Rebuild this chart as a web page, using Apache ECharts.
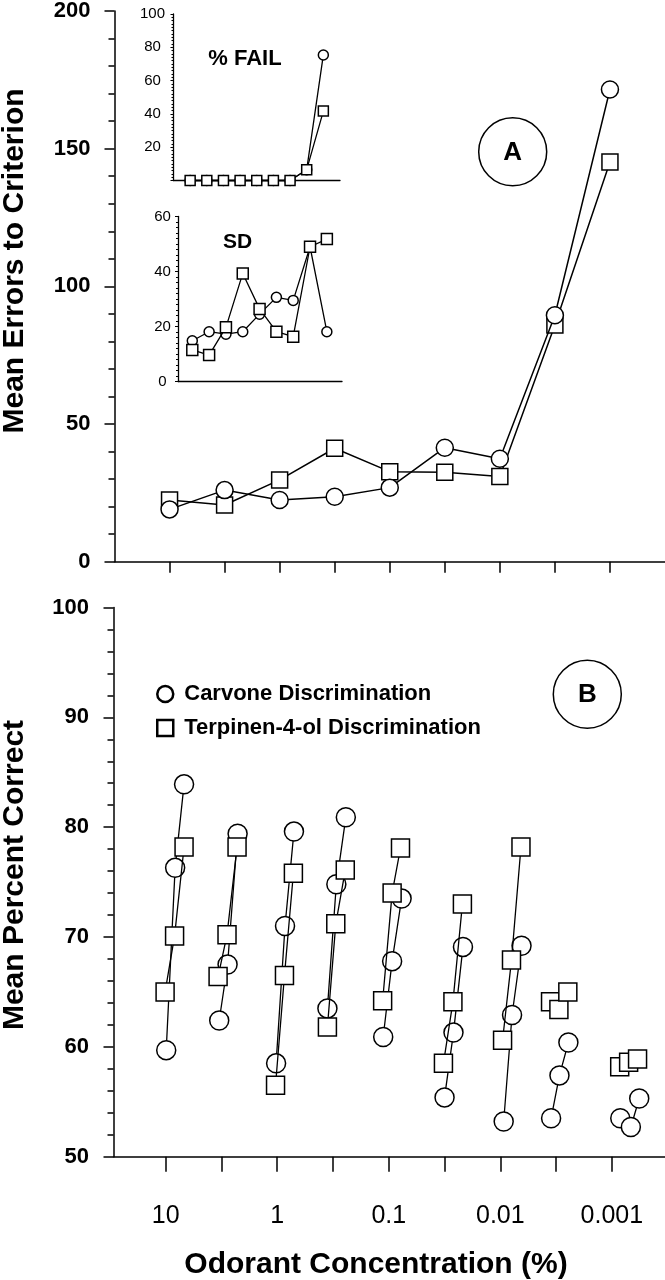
<!DOCTYPE html>
<html><head><meta charset="utf-8">
<script src="https://cdn.jsdelivr.net/npm/echarts@6/dist/echarts.min.js"></script>
<style>html,body{margin:0;padding:0;background:#fff}#c{width:665px;height:1280px}</style>
</head><body><div id="c"></div>
<script>
// ---------- data ----------
const positions = [1, 2, 3, 4, 5, 6, 7, 8, 9];
const carvoneErrors = [19.0, 26.0, 22.4, 23.6, 26.9, 41.4, 37.4, 89.5, 171.5];
const terpErrors = [22.4, 20.6, 29.7, 41.2, 32.7, 32.5, 30.9, 86.0, 145.2];
const carvoneFail = [0, 0, 0, 0, 0, 0, 0, 6.5, 75.4];
const terpFail = [0, 0, 0, 0, 0, 0, 0, 6.5, 41.7];
const carvoneSD = [14.8, 18.1, 17.2, 18.1, 24.5, 30.6, 29.5, 49.0, 18.1];
const terpSD = [11.5, 9.6, 19.7, 39.3, 26.4, 18.1, 16.3, 49.0, 51.8];
const concTickPos = [1, 3, 5, 7, 9];
const concTickLabels = ['10', '1', '0.1', '0.01', '0.001'];
const carvoneBx = [
  [1.01, 1.17, 1.33], [1.96, 2.11, 2.29], [2.98, 3.14, 3.30], [3.90, 4.06, 4.23],
  [4.90, 5.06, 5.23], [6.00, 6.16, 6.33], [7.06, 7.21, 7.38], [7.91, 8.06, 8.22], [9.15, 9.34, 9.49]];
const carvoneBy = [
  [59.7, 76.3, 83.9], [62.4, 67.5, 79.4], [58.5, 71.0, 79.6], [63.5, 74.8, 80.9],
  [60.9, 67.8, 73.5], [55.4, 61.3, 69.1], [53.2, 62.9, 69.2], [53.5, 57.4, 60.4], [53.5, 52.7, 55.3]];
const terpBx = [
  [0.99, 1.16, 1.33], [1.94, 2.10, 2.28], [2.97, 3.13, 3.29], [3.90, 4.05, 4.22],
  [4.89, 5.06, 5.21], [5.98, 6.15, 6.32], [7.04, 7.20, 7.37], [7.90, 8.05, 8.21], [9.14, 9.30, 9.46]];
const terpBy = [
  [65.0, 70.1, 78.2], [66.4, 70.2, 78.2], [56.5, 66.5, 75.8], [61.8, 71.2, 76.1],
  [64.2, 74.0, 78.1], [58.5, 64.1, 73.0], [60.6, 67.9, 78.2], [64.1, 63.4, 65.0], [58.2, 58.6, 58.9]];
const carvoneName = 'Carvone Discrimination';
const terpName = 'Terpinen-4-ol Discrimination';

// ---------- styling ----------
const FONT = '"Liberation Sans", Arial, Helvetica, sans-serif';
const BLACK = '#000';
function ser(name, gi, xs, ys, symbol, size, z, lw) {
  return {
    type: 'line', name: name, xAxisIndex: gi, yAxisIndex: gi,
    data: xs.map((x, i) => [x, ys[i]]),
    symbol: symbol, symbolSize: size, showSymbol: true, showAllSymbol: true,
    clip: false, z: z, silent: true, animation: false,
    itemStyle: { color: '#fff', borderColor: BLACK, borderWidth: 1.5, opacity: 1 },
    lineStyle: { color: BLACK, width: lw },
    emphasis: { disabled: true }
  };
}
function yAx(gi, min, max, interval, o) {
  return Object.assign({
    gridIndex: gi, type: 'value', min: min, max: max, interval: interval,
    axisLine: { show: true, lineStyle: { color: BLACK, width: 1.5 } },
    axisTick: { show: true, length: 10, lineStyle: { color: BLACK, width: 1.5 } },
    minorTick: { show: true, splitNumber: 5, length: 6, lineStyle: { color: BLACK, width: 1.5 } },
    splitLine: { show: false }, minorSplitLine: { show: false },
    axisLabel: { color: BLACK, fontFamily: FONT, fontSize: 22, fontWeight: 'bold', margin: 24 }
  }, o || {});
}

const series = [];
// Panel A main
series.push(ser('A terp', 0, positions, terpErrors, 'rect', 16, 3, 1.5));
series.push(ser('A carv', 0, positions, carvoneErrors, 'circle', 17, 4, 1.5));
// insets
series.push(ser('F carv', 1, positions, carvoneFail, 'circle', 10, 3, 1.3));
series.push(ser('F terp', 1, positions, terpFail, 'rect', 10, 4, 1.3));
series.push(ser('S carv', 2, positions, carvoneSD, 'circle', 10, 3, 1.3));
series.push(ser('S terp', 2, positions, terpSD, 'rect', 11, 4, 1.3));
// Panel B groups
for (let g = 0; g < carvoneBx.length; g++) {
  series.push(ser(carvoneName, 3, carvoneBx[g], carvoneBy[g], 'circle', 19, 3, 1.3));
}
for (let g = 0; g < terpBx.length; g++) {
  series.push(ser(terpName, 3, terpBx[g], terpBy[g], 'rect', 18, 4, 1.3));
}

const option = {
  animation: false,
  backgroundColor: '#fff',
  grid: [
    { left: 114.5, top: 11, width: 550.5, height: 550.7 },
    { left: 173.5, top: 14, width: 166.5, height: 166.5 },
    { left: 178, top: 216.5, width: 164, height: 165 },
    { left: 113.5, top: 607.5, width: 551.5, height: 549.2 }
  ],
  xAxis: [
    { gridIndex: 0, type: 'value', min: 0, max: 10,
      axisLine: { show: true, onZero: false, lineStyle: { color: BLACK, width: 1.5 } },
      axisTick: { show: true, customValues: positions, length: 11, lineStyle: { color: BLACK, width: 1.5 } },
      axisLabel: { show: false }, splitLine: { show: false } },
    { gridIndex: 1, type: 'value', min: 0, max: 10,
      axisLine: { show: true, onZero: false, lineStyle: { color: BLACK, width: 1.3 } },
      axisTick: { show: false }, axisLabel: { show: false }, splitLine: { show: false } },
    { gridIndex: 2, type: 'value', min: 0.15, max: 9.9,
      axisLine: { show: true, onZero: false, lineStyle: { color: BLACK, width: 1.3 } },
      axisTick: { show: false }, axisLabel: { show: false }, splitLine: { show: false } },
    { gridIndex: 3, type: 'value', min: 0.065, max: 9.952,
      axisLine: { show: true, onZero: false, lineStyle: { color: BLACK, width: 1.5 } },
      axisTick: { show: true, customValues: positions, length: 15, lineStyle: { color: BLACK, width: 1.5 } },
      axisLabel: { show: true, customValues: concTickPos, color: BLACK, fontFamily: FONT, fontSize: 25, margin: 47,
        formatter: function (v) { const i = concTickPos.indexOf(Math.round(v)); return i >= 0 ? concTickLabels[i] : ''; } },
      splitLine: { show: false } }
  ],
  yAxis: [
    yAx(0, 0, 200, 50, { minorTick: { show: true, splitNumber: 5, length: 6, lineStyle: { color: BLACK, width: 1.5 } } }),
    yAx(1, 0, 100, 20, {
      axisLine: { show: true, lineStyle: { color: BLACK, width: 1.3 } },
      axisTick: { show: true, length: 3, lineStyle: { color: BLACK, width: 1 } },
      minorTick: { show: true, splitNumber: 10, length: 2, lineStyle: { color: BLACK, width: 1 } },
      axisLabel: { color: BLACK, fontFamily: FONT, fontSize: 15, margin: 21, align: 'center', showMinLabel: false }
    }),
    yAx(2, 0, 60, 20, {
      axisLine: { show: true, lineStyle: { color: BLACK, width: 1.3 } },
      axisTick: { show: true, length: 3, lineStyle: { color: BLACK, width: 1 } },
      minorTick: { show: true, splitNumber: 10, length: 2, lineStyle: { color: BLACK, width: 1 } },
      axisLabel: { color: BLACK, fontFamily: FONT, fontSize: 15, margin: 15.5, align: 'center' }
    }),
    yAx(3, 50, 100, 10, { axisLabel: { color: BLACK, fontFamily: FONT, fontSize: 22, fontWeight: 'bold', margin: 24.5 } })
  ],
  legend: {
    data: [{ name: carvoneName, icon: 'circle' }, { name: terpName, icon: 'rect' }],
    left: 151, top: 678, orient: 'vertical', itemWidth: 16, itemHeight: 16, itemGap: 12,
    selectedMode: false,
    itemStyle: { color: '#fff', borderColor: BLACK, borderWidth: 2.5 },
    textStyle: { color: BLACK, fontFamily: FONT, fontSize: 22, fontWeight: 'bold', padding: [0, 0, 0, 6] }
  },
  graphic: [
    { type: 'text', x: 15, y: 261, rotation: Math.PI / 2, silent: true,
      style: { text: 'Mean Errors to Criterion', fill: BLACK, fontFamily: FONT, fontSize: 30, fontWeight: 'bold',
        align: 'center', verticalAlign: 'middle', textAlign: 'center', textVerticalAlign: 'middle' } },
    { type: 'text', x: 15, y: 875, rotation: Math.PI / 2, silent: true,
      style: { text: 'Mean Percent Correct', fill: BLACK, fontFamily: FONT, fontSize: 30, fontWeight: 'bold',
        align: 'center', verticalAlign: 'middle', textAlign: 'center', textVerticalAlign: 'middle' } },
    { type: 'text', x: 376, y: 1265, silent: true,
      style: { text: 'Odorant Concentration (%)', fill: BLACK, fontFamily: FONT, fontSize: 30, fontWeight: 'bold',
        align: 'center', verticalAlign: 'middle', textAlign: 'center', textVerticalAlign: 'middle' } },
    { type: 'text', x: 245, y: 59, silent: true,
      style: { text: '% FAIL', fill: BLACK, fontFamily: FONT, fontSize: 22, fontWeight: 'bold',
        align: 'center', verticalAlign: 'middle', textAlign: 'center', textVerticalAlign: 'middle' } },
    { type: 'text', x: 237.5, y: 242, silent: true,
      style: { text: 'SD', fill: BLACK, fontFamily: FONT, fontSize: 21, fontWeight: 'bold',
        align: 'center', verticalAlign: 'middle', textAlign: 'center', textVerticalAlign: 'middle' } },
    { type: 'circle', silent: true, shape: { cx: 512.7, cy: 151.7, r: 34 },
      style: { fill: 'none', stroke: BLACK, lineWidth: 1.5 } },
    { type: 'text', x: 512.7, y: 152.5, silent: true,
      style: { text: 'A', fill: BLACK, fontFamily: FONT, fontSize: 26, fontWeight: 'bold',
        align: 'center', verticalAlign: 'middle', textAlign: 'center', textVerticalAlign: 'middle' } },
    { type: 'circle', silent: true, shape: { cx: 587.3, cy: 694.3, r: 34 },
      style: { fill: 'none', stroke: BLACK, lineWidth: 1.5 } },
    { type: 'text', x: 587.3, y: 695, silent: true,
      style: { text: 'B', fill: BLACK, fontFamily: FONT, fontSize: 26, fontWeight: 'bold',
        align: 'center', verticalAlign: 'middle', textAlign: 'center', textVerticalAlign: 'middle' } }
  ],
  series: series
};
const chart = echarts.init(document.getElementById('c'), null, { renderer: 'canvas' });
chart.setOption(option);
</script></body></html>
